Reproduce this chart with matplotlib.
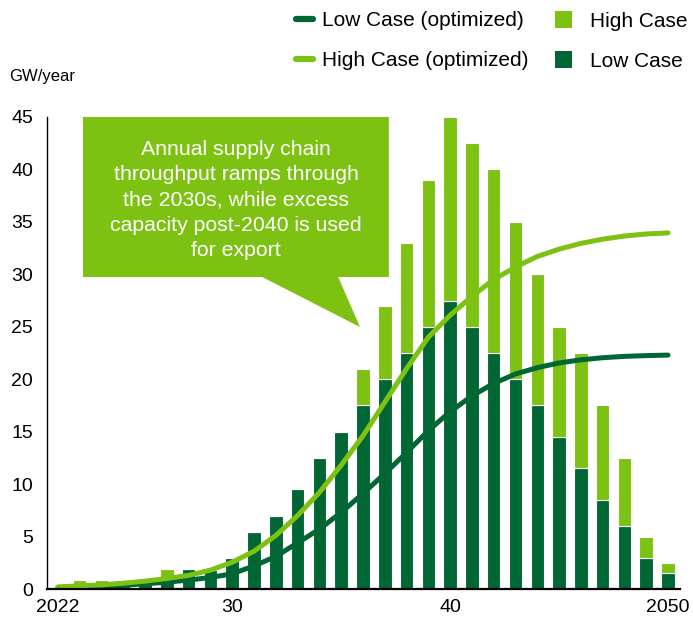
import matplotlib
matplotlib.use("Agg")
import matplotlib.pyplot as plt
from matplotlib.patches import Polygon, Patch
from matplotlib.lines import Line2D
import numpy as np

plt.rcParams['font.family'] = ['Liberation Sans', 'DejaVu Sans']

# ---- data ----
bar_years = list(range(2023, 2051))
low_case = [0.4, 0.4, 0.9, 0.9, 1.0, 1.9, 1.8, 3.0, 5.4, 7.0, 9.5, 12.5, 15.0,
            17.5, 20.0, 22.5, 25.0, 27.5, 25.0, 22.5, 20.0, 17.5, 14.5, 11.5,
            8.5, 6.0, 3.0, 1.5]
high_case = [0.9, 0.9, 0.9, 0.9, 1.9, 1.9, 1.8, 3.0, 5.4, 7.0, 9.5, 12.5, 15.0,
             21.0, 27.0, 33.0, 39.0, 45.0, 42.5, 40.0, 35.0, 30.0, 25.0, 22.5,
             17.5, 12.5, 5.0, 2.5]

line_years = list(range(2022, 2051))
low_opt = [0.1, 0.15, 0.25, 0.35, 0.5, 0.65, 0.85, 1.1, 1.45, 2.2, 3.1, 4.4,
           5.7, 7.3, 9.1, 11.0, 13.0, 15.1, 16.9, 18.4, 19.6, 20.5, 21.1,
           21.55, 21.85, 22.05, 22.18, 22.25, 22.3]
high_opt = [0.2, 0.3, 0.4, 0.55, 0.75, 1.0, 1.3, 1.8, 2.55, 3.6, 5.1, 7.0,
            9.2, 11.8, 14.6, 17.8, 21.0, 24.0, 26.1, 27.9, 29.5, 30.7, 31.7,
            32.4, 32.95, 33.35, 33.65, 33.85, 33.95]

xtick_pos = [2022, 2030, 2040, 2050]
xtick_labels = ['2022', '30', '40', '2050']
ytick_pos = list(range(0, 46, 5))

callout_text = ("Annual supply chain\nthroughput ramps through\nthe 2030s, while excess\n"
                "capacity post-2040 is used\nfor export")

DARK = '#006633'
LIGHT = '#7DC113'

# ---- figure ----
fig = plt.figure(figsize=(6.93, 6.23), dpi=100)
ax = fig.add_axes([47/693, 1 - 589/623, (680-47)/693, (589-117)/623])

low_arr = np.array(low_case)
high_arr = np.array(high_case)
ax.bar(bar_years, low_arr, width=0.62, color=DARK, edgecolor='white',
       linewidth=0.8, zorder=2)
ax.bar(bar_years, high_arr - low_arr, bottom=low_arr, width=0.62, color=LIGHT,
       edgecolor='white', linewidth=0.8, zorder=2)

ax.plot(line_years, low_opt, color=DARK, lw=3.6, solid_capstyle='round', zorder=3)
ax.plot(line_years, high_opt, color=LIGHT, lw=3.6, solid_capstyle='round', zorder=4)

ax.set_xlim(2021.5, 2050.55)
ax.set_ylim(0, 45)
ax.set_xticks(xtick_pos)
ax.set_xticklabels(xtick_labels)
ax.set_yticks(ytick_pos)
ax.tick_params(axis='both', length=0, labelsize=14, colors='black')
ax.tick_params(axis='y', pad=10)
ax.tick_params(axis='x', pad=7)
for s in ['top', 'right']:
    ax.spines[s].set_visible(False)
ax.spines['left'].set_linewidth(1.0)
ax.spines['bottom'].set_linewidth(1.6)
ax.spines['bottom'].set_zorder(5)

fig.text(9/693, 1 - 77/623, 'GW/year', fontsize=12, va='center', ha='left')

# ---- callout ----
pts = [(0.0569, 1.0), (0.540, 1.0), (0.540, 0.661), (0.460, 0.661),
       (0.4945, 0.555), (0.340, 0.661), (0.0569, 0.661)]
ax.add_patch(Polygon(pts, closed=True, transform=ax.transAxes, facecolor=LIGHT,
                     edgecolor='none', clip_on=False, zorder=6))
ax.text(0.2986, 0.824, callout_text, transform=ax.transAxes, ha='center',
        va='center', color='white', fontsize=15.3, linespacing=1.42, zorder=7)

# ---- legend ----
line_handles = [Line2D([], [], color=DARK, lw=4.5, solid_capstyle='round'),
                Line2D([], [], color=LIGHT, lw=4.5, solid_capstyle='round')]
line_labels = ['Low Case (optimized)', 'High Case (optimized)']
patch_handles = [Patch(facecolor=LIGHT, edgecolor='none'),
                 Patch(facecolor=DARK, edgecolor='none')]
patch_labels = ['High Case', 'Low Case']

fig.legend(line_handles, line_labels, loc='upper left',
           bbox_to_anchor=(296/693, 1 - 11/623), frameon=False, fontsize=15,
           handlelength=0.8, handletextpad=0.45, labelspacing=1.0,
           borderpad=0, borderaxespad=0)
fig.legend(patch_handles, patch_labels, loc='upper left',
           bbox_to_anchor=(555/693, 1 - 11/623), frameon=False, fontsize=15,
           handlelength=0.82, handleheight=0.85, handletextpad=0.85,
           labelspacing=1.0, borderpad=0, borderaxespad=0)

fig.savefig('out.png', dpi=100)
